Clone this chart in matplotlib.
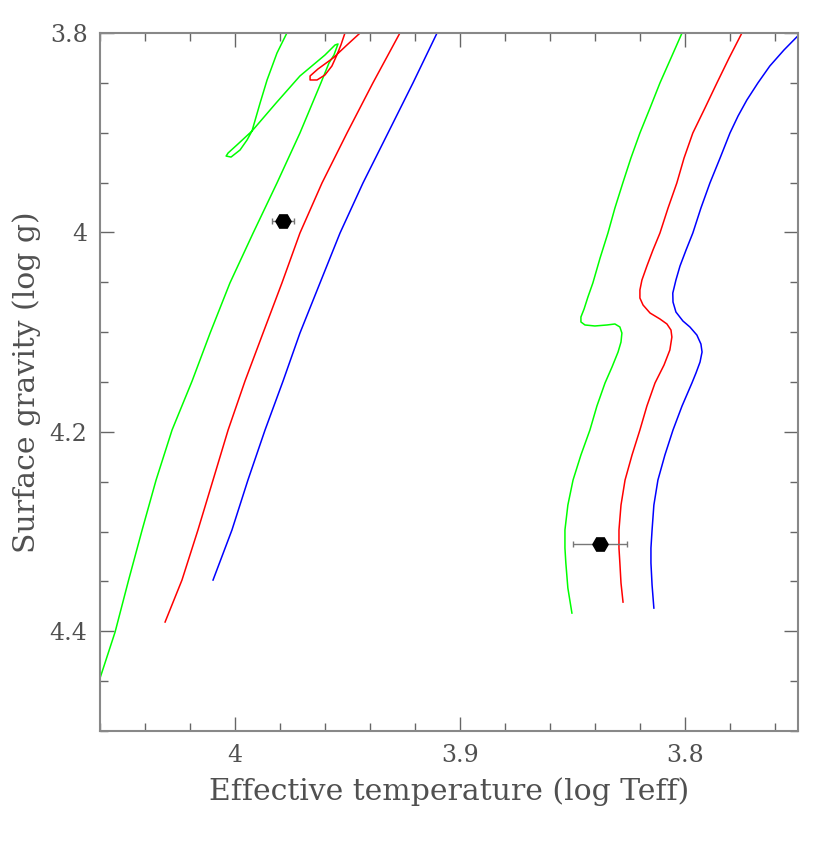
import matplotlib.pyplot as plt
from matplotlib.ticker import MultipleLocator

# isochrone tracks: log Teff / log g
green_a_x = [4.064, 4.060, 4.0533, 4.0473, 4.0413, 4.0351, 4.0280, 4.0191, 4.0111, 4.0023,
             3.9920, 3.9814, 3.9712, 3.9619, 3.9583, 3.9561, 3.9548, 3.9543, 3.9556, 3.9601,
             3.9712, 3.9818, 3.9925, 3.9992, 4.0031, 4.0040, 4.0018, 3.9978, 3.9947, 3.9925,
             3.9889, 3.9858, 3.9814, 3.9770, 3.9752]
green_a_y = [4.469, 4.447, 4.4007, 4.3486, 4.2984, 4.2483, 4.1981, 4.1490, 4.1009, 4.0507,
             4.0006, 3.9504, 3.9003, 3.8501, 3.8301, 3.8221, 3.8140, 3.8110, 3.8120, 3.8221,
             3.8431, 3.8702, 3.8983, 3.9123, 3.9203, 3.9234, 3.9244, 3.9173, 3.9073, 3.8983,
             3.8702, 3.8471, 3.8201, 3.8000, 3.789]

red_a_x = [4.0311, 4.0236, 4.0165, 4.0098, 4.0031, 3.9956, 3.9876, 3.9792, 3.9712, 3.9614,
           3.9503, 3.9388, 3.9268, 3.925]
red_a_y = [4.3907, 4.3486, 4.2984, 4.2483, 4.1981, 4.1490, 4.1009, 4.0507, 4.0006, 3.9504,
           3.9003, 3.8501, 3.8000, 3.789]

red_loop_x = [3.9494, 3.9512, 3.9530, 3.9548, 3.9570, 3.9601, 3.9636, 3.9667, 3.9667, 3.9632,
              3.9565, 3.9503, 3.9445, 3.9392]
red_loop_y = [3.789, 3.800, 3.812, 3.8221, 3.8331, 3.8421, 3.8471, 3.8471, 3.8431, 3.8361,
              3.8251, 3.812, 3.800, 3.789]

blue_a_x = [4.0098, 4.0014, 3.9943, 3.9867, 3.9787, 3.9712, 3.9623, 3.9534, 3.9432, 3.9321,
            3.9210, 3.9103, 3.9086]
blue_a_y = [4.3486, 4.2984, 4.2483, 4.1981, 4.1490, 4.1009, 4.0507, 4.0006, 3.9504, 3.9003,
            3.8501, 3.8000, 3.789]

green_b_x = [3.7998, 3.8015, 3.8064, 3.8113, 3.8157, 3.8202, 3.8242, 3.8278, 3.8313, 3.8344,
             3.8379, 3.8411, 3.8433, 3.8450, 3.8464, 3.8464, 3.8446, 3.8402, 3.8348, 3.8313,
             3.8291, 3.8282, 3.8286, 3.8299, 3.8326, 3.8357, 3.8393, 3.8424, 3.8464, 3.8499,
             3.8522, 3.8535, 3.8535, 3.8531, 3.8522, 3.8504]
green_b_y = [3.789, 3.800, 3.8251, 3.8501, 3.8752, 3.9003, 3.9254, 3.9504, 3.9755, 4.0006,
             4.0257, 4.0507, 4.0648, 4.0768, 4.0848, 4.0898, 4.0928, 4.0938, 4.0928, 4.0918,
             4.0948, 4.1009, 4.1099, 4.1199, 4.1350, 4.1510, 4.1741, 4.1981, 4.2232, 4.2483,
             4.2734, 4.2984, 4.3165, 4.3315, 4.3566, 4.3817]

red_b_x = [3.7731, 3.7749, 3.7806, 3.7860, 3.7913, 3.7967, 3.8006, 3.8038, 3.8077, 3.8113,
           3.8144, 3.8171, 3.8193, 3.8202, 3.8202, 3.8188, 3.8157, 3.8113, 3.8082, 3.8064,
           3.8060, 3.8069, 3.8095, 3.8135, 3.8171, 3.8202, 3.8237, 3.8268, 3.8286, 3.8295,
           3.8295, 3.8291, 3.8286, 3.8277]
red_b_y = [3.789, 3.800, 3.8251, 3.8501, 3.8752, 3.9003, 3.9254, 3.9504, 3.9755, 4.0006,
           4.0176, 4.0337, 4.0477, 4.0577, 4.0658, 4.0728, 4.0808, 4.0868, 4.0918, 4.0979,
           4.1049, 4.1179, 4.1330, 4.1510, 4.1741, 4.1981, 4.2232, 4.2483, 4.2734, 4.2984,
           4.3165, 4.3315, 4.3516, 4.3707]

blue_b_x = [3.7451, 3.7501, 3.7562, 3.7625, 3.7678, 3.7727, 3.7766, 3.7802, 3.7846, 3.7891,
            3.7931, 3.7967, 3.7997, 3.8024, 3.8042, 3.8056, 3.8055, 3.8042, 3.8011, 3.7980,
            3.7949, 3.7931, 3.7926, 3.7935, 3.7953, 3.7971, 3.8015, 3.8055, 3.8091, 3.8122,
            3.8140, 3.8148, 3.8153, 3.8153, 3.8148, 3.8140]
blue_b_y = [3.793, 3.803, 3.8170, 3.8331, 3.8501, 3.8672, 3.8832, 3.9003, 3.9254, 3.9504,
            3.9755, 4.0006, 4.0176, 4.0337, 4.0477, 4.0608, 4.0698, 4.0798, 4.0888, 4.0948,
            4.1029, 4.1119, 4.1199, 4.1300, 4.1410, 4.1510, 4.1741, 4.1981, 4.2232, 4.2483,
            4.2734, 4.2984, 4.3165, 4.3315, 4.3536, 4.3767]

# observed stars
star_teff = [3.9787, 3.8380]
star_logg = [3.9885, 4.3125]
star_teff_err = [0.005, 0.012]

text_col = '#505050'
plt.rcParams['font.family'] = ['DejaVu Serif']

fig = plt.figure(figsize=(8.3, 8.64), dpi=100)
ax = fig.add_axes([0.1205, 0.1539, 0.8409, 0.8079])

lw = 1.1
ax.plot(green_a_x, green_a_y, color='#00ff00', lw=lw)
ax.plot(red_a_x, red_a_y, color='#ff0000', lw=lw)
ax.plot(red_loop_x, red_loop_y, color='#ff0000', lw=lw)
ax.plot(blue_a_x, blue_a_y, color='#0000ff', lw=lw)
ax.plot(green_b_x, green_b_y, color='#00ff00', lw=lw)
ax.plot(red_b_x, red_b_y, color='#ff0000', lw=lw)
ax.plot(blue_b_x, blue_b_y, color='#0000ff', lw=lw)

ax.errorbar(star_teff, star_logg, xerr=star_teff_err, fmt='H', color='black',
            ms=11, ecolor='#777777', elinewidth=1.0, capsize=2, capthick=1.0)

ax.set_xlim(4.06, 3.75)
ax.set_ylim(4.5, 3.8)
ax.xaxis.set_minor_locator(MultipleLocator(0.02))
ax.yaxis.set_minor_locator(MultipleLocator(0.05))
ax.set_xticks([4.0, 3.9, 3.8])
ax.set_xticklabels(['4', '3.9', '3.8'])
ax.set_yticks([3.8, 4.0, 4.2, 4.4])
ax.set_yticklabels(['3.8', '4', '4.2', '4.4'])

ax.tick_params(which='both', direction='in', top=True, right=True, colors='#666666',
               labelcolor=text_col, labelsize=17, width=1.0)
ax.tick_params(which='major', length=10, pad=9)
ax.tick_params(which='minor', length=6)
for s in ax.spines.values():
    s.set_color('#888888')
    s.set_linewidth(1.5)

ax.set_xlabel('Effective temperature (log Teff)', fontsize=21.5, color=text_col, labelpad=8)
ax.set_ylabel('Surface gravity (log g)', fontsize=21.5, color=text_col, labelpad=6)

fig.savefig('out.png', dpi=100)
